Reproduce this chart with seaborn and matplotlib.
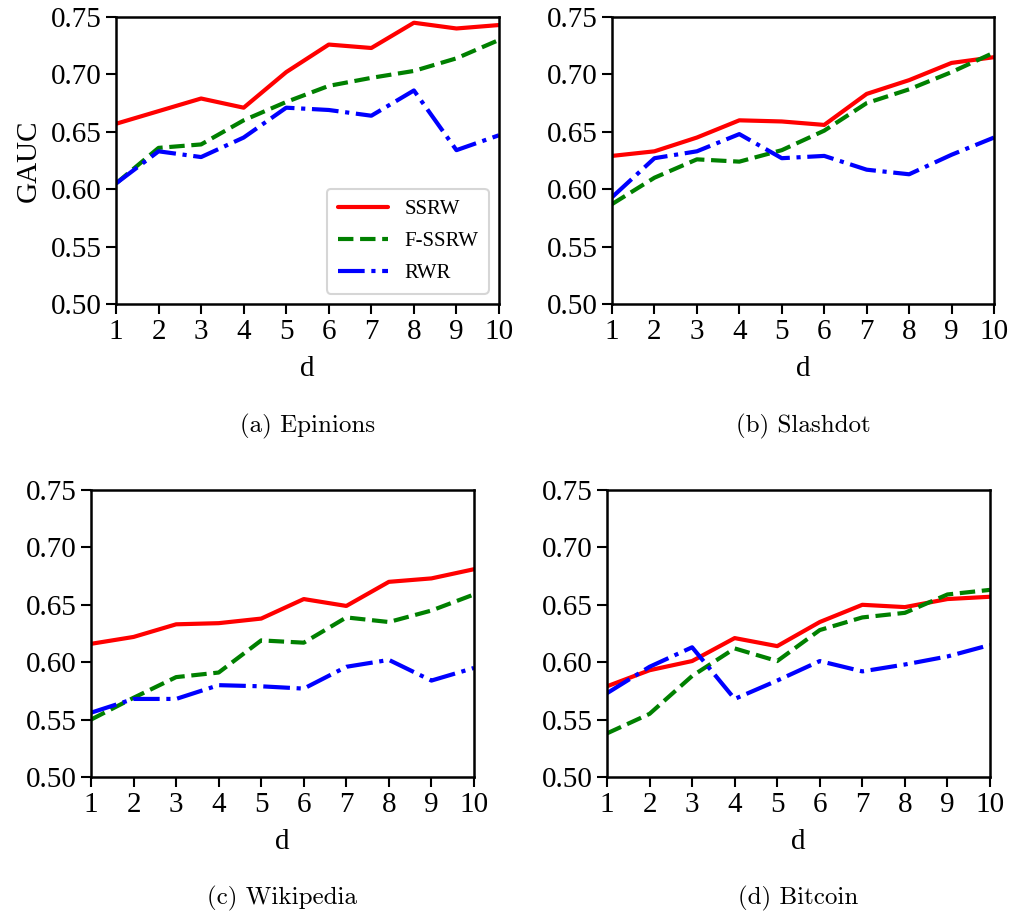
import numpy as np
import pandas as pd
import matplotlib
matplotlib.use("Agg")
import matplotlib.pyplot as plt
import seaborn as sns

# --- DATA ---
d = [1, 2, 3, 4, 5, 6, 7, 8, 9, 10]
methods = ["SSRW", "F-SSRW", "RWR"]

epinions_ssrw = [0.657, 0.668, 0.679, 0.671, 0.702, 0.726, 0.723, 0.745, 0.740, 0.743]
epinions_fssrw = [0.605, 0.636, 0.639, 0.660, 0.676, 0.690, 0.697, 0.703, 0.714, 0.730]
epinions_rwr = [0.605, 0.633, 0.628, 0.645, 0.671, 0.669, 0.664, 0.686, 0.634, 0.647]

slashdot_ssrw = [0.629, 0.633, 0.645, 0.660, 0.659, 0.656, 0.683, 0.695, 0.710, 0.715]
slashdot_fssrw = [0.587, 0.610, 0.626, 0.624, 0.634, 0.651, 0.675, 0.687, 0.702, 0.719]
slashdot_rwr = [0.593, 0.627, 0.633, 0.648, 0.627, 0.629, 0.617, 0.613, 0.630, 0.645]

wikipedia_ssrw = [0.616, 0.622, 0.633, 0.634, 0.638, 0.655, 0.649, 0.670, 0.673, 0.681]
wikipedia_fssrw = [0.550, 0.569, 0.587, 0.591, 0.619, 0.617, 0.639, 0.635, 0.645, 0.659]
wikipedia_rwr = [0.556, 0.568, 0.568, 0.580, 0.579, 0.577, 0.596, 0.602, 0.584, 0.595]

bitcoin_ssrw = [0.579, 0.593, 0.601, 0.621, 0.614, 0.635, 0.650, 0.648, 0.655, 0.657]
bitcoin_fssrw = [0.538, 0.555, 0.588, 0.612, 0.601, 0.628, 0.639, 0.643, 0.659, 0.663]
bitcoin_rwr = [0.573, 0.596, 0.613, 0.568, 0.584, 0.601, 0.592, 0.598, 0.605, 0.615]

captions = ["(a) Epinions", "(b) Slashdot", "(c) Wikipedia", "(d) Bitcoin"]
yticks = [0.50, 0.55, 0.60, 0.65, 0.70, 0.75]

# --- STYLE ---
sns.set_style("ticks")
plt.rcParams['font.family'] = ['Liberation Serif', 'DejaVu Serif']
for key in ['text.color', 'axes.labelcolor', 'xtick.color', 'ytick.color', 'axes.edgecolor']:
    plt.rcParams[key] = 'black'
colors = {"SSRW": "red", "F-SSRW": "green", "RWR": "blue"}
styles = {"SSRW": "-", "F-SSRW": "--", "RWR": "-."}

panels = [
    (epinions_ssrw, epinions_fssrw, epinions_rwr),
    (slashdot_ssrw, slashdot_fssrw, slashdot_rwr),
    (wikipedia_ssrw, wikipedia_fssrw, wikipedia_rwr),
    (bitcoin_ssrw, bitcoin_fssrw, bitcoin_rwr),
]

W, H = 1012, 916
# axes boxes in pixels: left, top, right, bottom
boxes = [(116, 17, 499, 304), (612, 17, 994, 304),
         (91, 490, 474, 777), (607, 490, 990, 777)]
caption_y = [426, 426, 898, 898]

fig = plt.figure(figsize=(W / 100, H / 100), dpi=100)

for i, (vals, box) in enumerate(zip(panels, boxes)):
    l, t, r, b = box
    ax = fig.add_axes([l / W, 1 - b / H, (r - l) / W, (b - t) / H])
    df = pd.DataFrame({
        "d": d * 3,
        "GAUC": vals[0] + vals[1] + vals[2],
        "method": [m for m in methods for _ in d],
    })
    for m in methods:
        sub = df[df["method"] == m]
        sns.lineplot(data=sub, x="d", y="GAUC", ax=ax, color=colors[m],
                     linestyle=styles[m], linewidth=3, label=m)
    ax.set_xlim(1, 10)
    ax.set_ylim(0.50, 0.75)
    ax.set_xticks(d)
    ax.set_yticks(yticks)
    ax.set_yticklabels([f"{v:.2f}" for v in yticks])
    ax.tick_params(labelsize=21, length=7, width=1.5, direction="out", colors="black")
    for s in ax.spines.values():
        s.set_linewidth(1.8)
        s.set_color("black")
    ax.set_xlabel("d", fontsize=21, labelpad=8)
    if i == 0:
        ax.set_ylabel("GAUC", fontsize=21, labelpad=6)
        leg = ax.legend(loc="lower right", fontsize=15, frameon=True,
                        fancybox=True, handlelength=2.4, borderpad=0.5,
                        labelspacing=0.6)
        leg.get_frame().set_edgecolor("#cccccc")
        leg.get_frame().set_linewidth(1.5)
        for txt in leg.get_texts():
            txt.set_color("black")
    else:
        ax.set_ylabel("")
        ax.get_legend().remove()
    cx = (l + r) / 2 / W
    fig.text(cx, 1 - caption_y[i] / H, captions[i], ha="center", va="center",
             fontsize=18, color="black", family=['cmr10', 'DejaVu Serif'])

fig.savefig("out.png", dpi=100)
